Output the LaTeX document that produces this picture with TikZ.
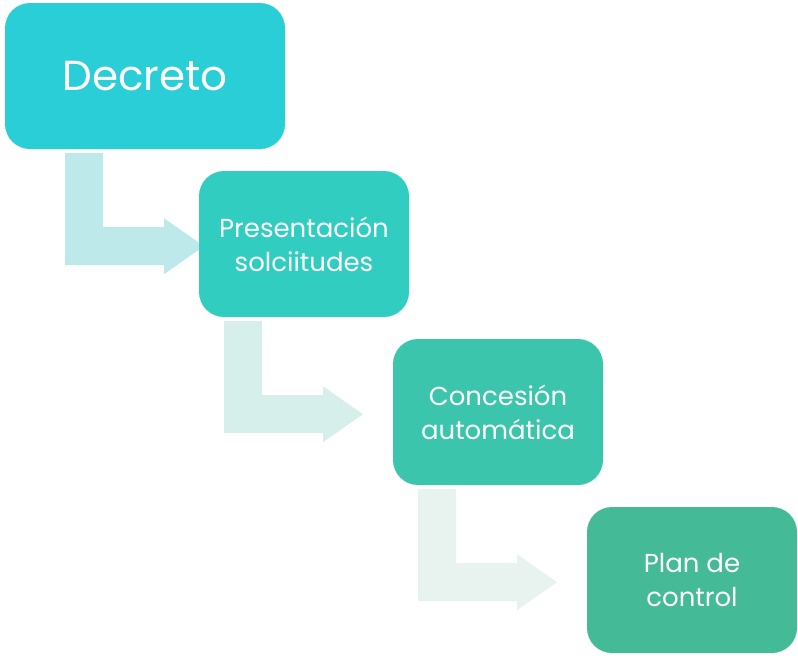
\documentclass[tikz,border=0pt]{standalone}
\usepackage{fontspec}
\setmainfont{Poppins}
\usepackage{tikz}
\usetikzlibrary{calc,backgrounds}
\definecolor{stcyan}{RGB}{42,206,214}
\definecolor{stteal}{RGB}{50,205,193}
\definecolor{stsea}{RGB}{60,197,173}
\definecolor{stgreen}{RGB}{69,186,151}
\definecolor{arcyan}{RGB}{190,233,235}
\definecolor{arteal}{RGB}{214,239,234}
\definecolor{arsea}{RGB}{232,243,240}
\tikzstyle{stage} = [rectangle, rounded corners=25pt, minimum height=146pt, text centered, align=center, text=white, inner sep=0pt, font=\fontsize{26}{34}\selectfont]
% bent block arrow leaving the bottom of a stage
\newcommand{\bentarrow}[2]{\fill[#2] ($(#1.south)+(-80,4)$) -- ++(38,0) -- ++(0,74) -- ++(61,0) -- ++(0,-9) -- ++(40,28) -- ++(-40,28) -- ++(0,-9) -- ++(-99,0) -- cycle;}

\begin{document}
\begin{tikzpicture}[x=1pt, y=-1pt]
\useasboundingbox (0,0) rectangle (798,657);
% Stages
\node (decreto) [stage, fill=stcyan, minimum width=280pt, font=\fontsize{42}{50}\selectfont] at (145,76) {Decreto};
\node (solicitudes) [stage, fill=stteal, minimum width=210pt] at (304,244) {Presentación\\solciitudes};
\node (concesion) [stage, fill=stsea, minimum width=210pt] at (498,412) {Concesión\\automática};
\node (control) [stage, fill=stgreen, minimum width=210pt] at (692,580) {Plan de\\control};

% Arrows
\begin{scope}[on background layer]
\bentarrow{decreto}{arcyan}
\bentarrow{solicitudes}{arteal}
\bentarrow{concesion}{arsea}
\end{scope}
\end{tikzpicture}
\end{document}
